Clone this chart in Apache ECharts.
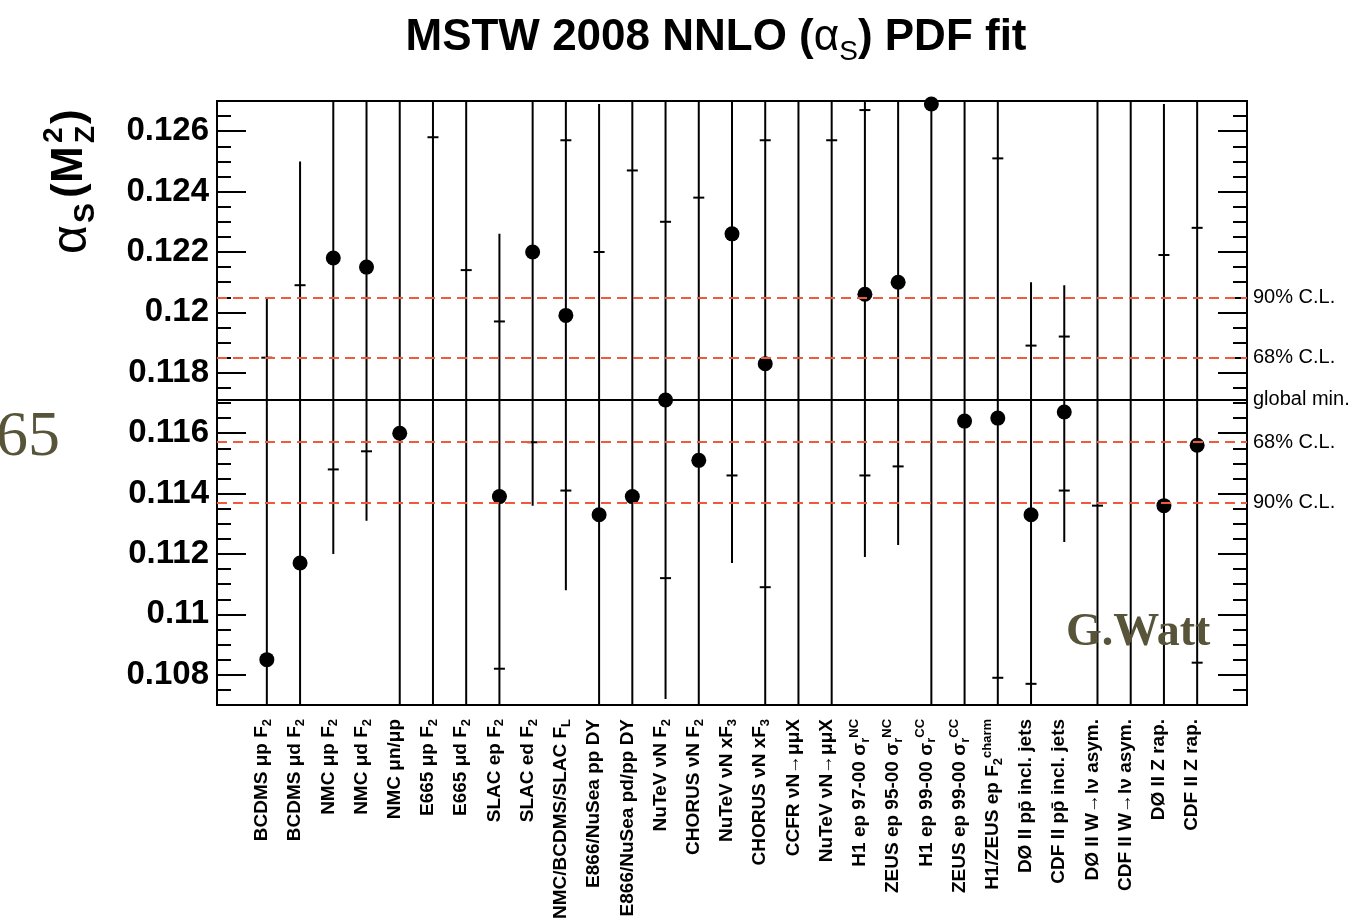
<!DOCTYPE html>
<html><head><meta charset="utf-8">
<script src="https://cdn.jsdelivr.net/npm/echarts@6/dist/echarts.min.js"></script>
<style>html,body{margin:0;padding:0;background:#fff}#c{width:1369px;height:922px}</style>
</head><body><div id="c"></div>
<script>
// ---- data ----
const categories = [
  'BCDMS μp F_{2}', 'BCDMS μd F_{2}', 'NMC μp F_{2}', 'NMC μd F_{2}', 'NMC μn/μp',
  'E665 μp F_{2}', 'E665 μd F_{2}', 'SLAC ep F_{2}', 'SLAC ed F_{2}', 'NMC/BCDMS/SLAC F_{L}',
  'E866/NuSea pp DY', 'E866/NuSea pd/pp DY', 'NuTeV νN F_{2}', 'CHORUS νN F_{2}', 'NuTeV νN xF_{3}',
  'CHORUS νN xF_{3}', 'CCFR νN→μμX', 'NuTeV νN→μμX', 'H1 ep 97-00 σ_{r}^{NC}', 'ZEUS ep 95-00 σ_{r}^{NC}',
  'H1 ep 99-00 σ_{r}^{CC}', 'ZEUS ep 99-00 σ_{r}^{CC}', 'H1/ZEUS ep F_{2}^{charm}', 'DØ II pp\u0304 incl. jets', 'CDF II pp\u0304 incl. jets',
  'DØ II W→lν asym.', 'CDF II W→lν asym.', 'DØ II Z rap.', 'CDF II Z rap.'
];
// best-fit alpha_S per data set (null = outside plotted range)
const central = [0.1085, 0.1117, 0.1218, 0.1215, 0.1160, null, null, 0.1139, 0.1220, 0.1199,
  0.1133, 0.1139, 0.1171, 0.1151, 0.1226, 0.1183, null, null, 0.1206, 0.1210,
  0.1269, 0.1164, 0.1165, 0.1133, 0.1167, null, null, 0.1136, 0.1156];
// 90% C.L. limits (values beyond the axis run off the frame)
const lo90 = [0.100, 0.100, 0.1120, 0.1131, 0.100, 0.100, 0.100, 0.100, 0.1136, 0.1108,
  0.100, 0.100, 0.1072, 0.100, 0.1117, 0.100, 0.100, 0.100, 0.1119, 0.1123,
  0.100, 0.100, 0.100, 0.100, 0.1124, 0.100, 0.100, 0.100, 0.100];
const hi90 = [0.1205, 0.1250, 0.135, 0.135, 0.135, 0.135, 0.135, 0.1226, 0.135, 0.135,
  0.1269, 0.135, 0.135, 0.135, 0.135, 0.135, 0.135, 0.135, 0.135, 0.135,
  0.135, 0.135, 0.135, 0.1210, 0.1209, 0.135, 0.135, 0.1269, 0.135];
// 68% C.L. limits (null = outside plotted range)
const lo68 = [null, null, 0.1148, 0.1154, null, null, null, 0.1082, 0.1157, 0.1141,
  null, null, 0.1112, null, 0.1146, 0.1109, null, null, 0.1146, 0.1149,
  null, null, 0.1079, 0.1077, 0.1141, 0.1136, null, null, 0.1084];
const hi68 = [0.1185, 0.1209, null, null, null, 0.1258, 0.1214, 0.1197, null, 0.1257,
  0.1220, 0.1247, 0.1230, 0.1238, null, 0.1257, null, 0.1257, 0.1267, null,
  null, null, 0.1251, 0.1189, 0.1192, null, null, 0.1219, 0.1228];
// global fit and its C.L. bands
const clLevels = [0.1205, 0.1185, 0.1171, 0.1157, 0.1137];
const clLabels = ['90% C.L.', '68% C.L.', 'global min.', '68% C.L.', '90% C.L.'];
const yMin = 0.107, yMax = 0.127;

// ---- build ----
const FONT = '"Liberation Sans", Arial, Helvetica, sans-serif';
const SERIF = '"Liberation Serif", "DejaVu Serif", serif';
const axisCats = [''].concat(categories, ['']);
function fmtLabel(s) {
  return s.replace(/_\{([^}]*)\}/g, '{sub|$1}').replace(/\^\{([^}]*)\}/g, '{sup|$1}');
}
const errData = categories.map((c, i) => [i + 1, lo90[i], lo68[i], hi68[i], hi90[i]]);
const dotData = [];
central.forEach((v, i) => { if (v != null) dotData.push([i + 1, v]); });

function renderErr(params, api) {
  const xi = api.value(0);
  const a = api.coord([xi, api.value(1)]);
  const b = api.coord([xi, api.value(4)]);
  const ch = [{ type: 'line', shape: { x1: a[0], y1: a[1], x2: b[0], y2: b[1] },
    style: { stroke: '#000', lineWidth: 2 } }];
  [2, 3].forEach(d => {
    const v = api.value(d);
    if (v != null && isFinite(v)) {
      const p = api.coord([xi, v]);
      ch.push({ type: 'line', shape: { x1: p[0] - 5.5, y1: p[1], x2: p[0] + 5.5, y2: p[1] },
        style: { stroke: '#000', lineWidth: 2 } });
    }
  });
  return { type: 'group', children: ch };
}

const yAxisBase = {
  type: 'value', min: yMin, max: yMax, splitNumber: 10,
  axisLine: { show: true, lineStyle: { color: '#000', width: 2 } },
  axisTick: { show: true, inside: true, length: 29, lineStyle: { color: '#000', width: 2 } },
  minorTick: { show: true, splitNumber: 4, length: 14, lineStyle: { color: '#000', width: 2 } },
  splitLine: { show: false }
};

const chart = echarts.init(document.getElementById('c'), null, { renderer: 'canvas' });
chart.setOption({
  animation: false,
  backgroundColor: '#fff',
  grid: { left: 217, right: 122, top: 101, bottom: 216, show: true, borderColor: '#000', borderWidth: 2, containLabel: false },
  xAxis: {
    type: 'category', data: axisCats, boundaryGap: true,
    axisLine: { show: true, lineStyle: { color: '#000', width: 2 } },
    axisTick: { show: false },
    axisLabel: {
      interval: 0, rotate: 90, margin: 14, color: '#000', fontSize: 19, fontWeight: 'bold',
      fontFamily: FONT, lineHeight: 24, padding: [0, 0, 10, 0],
      formatter: fmtLabel,
      rich: {
        sub: { fontSize: 13, fontWeight: 'bold', fontFamily: FONT, color: '#000', verticalAlign: 'bottom' },
        sup: { fontSize: 13, fontWeight: 'bold', fontFamily: FONT, color: '#000', verticalAlign: 'top' }
      }
    }
  },
  yAxis: [
    Object.assign({}, yAxisBase, { position: 'left',
      axisLabel: { color: '#000', fontSize: 33, fontWeight: 'bold', fontFamily: FONT, margin: 8 } }),
    Object.assign({}, yAxisBase, { position: 'right', axisLabel: { show: false } })
  ],
  series: [
    { type: 'custom', renderItem: renderErr, data: errData, clip: true, z: 2,
      encode: { x: 0, y: [1, 2, 3, 4] }, silent: true },
    { type: 'scatter', data: dotData, symbol: 'circle', symbolSize: 15, z: 3,
      itemStyle: { color: '#000', opacity: 1 }, silent: true },
    { type: 'line', data: [], z: 5, silent: true,
      markLine: {
        silent: true, symbol: ['none', 'none'], animation: false, precision: 4,
        label: { show: true, position: 'end', distance: 6, formatter: '{b}', color: '#000',
          fontSize: 20, fontFamily: FONT },
        data: clLevels.map((v, i) => ({
          yAxis: v, name: clLabels[i],
          lineStyle: i === 2 ? { color: '#000', type: 'solid', width: 2 }
                             : { color: '#f05a3a', type: [10, 6], width: 2 }
        }))
      }
    }
  ],
  graphic: [
    { type: 'text', x: 716, y: 38, style: {
        text: 'MSTW 2008 NNLO ({a|α}{s|S}) PDF fit', align: 'center', verticalAlign: 'middle',
        fontSize: 44, fontWeight: 'bold', fontFamily: FONT, fill: '#000', lineHeight: 56,
        rich: { a: { fontSize: 44, fontWeight: 'normal', fontFamily: FONT, fill: '#000' },
                s: { fontSize: 28, fontWeight: 'normal', fontFamily: FONT, fill: '#000', verticalAlign: 'bottom' } }
      } },
    { type: 'group', x: 72, y: 254, rotation: Math.PI / 2, children: [
        { type: 'text', x: 0, y: 0, style: { text: 'α', fontSize: 50, fontFamily: FONT, fill: '#000', verticalAlign: 'middle' } },
        { type: 'text', x: 31, y: 14, style: { text: 'S', fontSize: 30, fontWeight: 'bold', fontFamily: FONT, fill: '#000', verticalAlign: 'middle' } },
        { type: 'text', x: 56, y: -2, style: { text: '(', fontSize: 44, fontWeight: 'bold', fontFamily: FONT, fill: '#000', verticalAlign: 'middle' } },
        { type: 'text', x: 71, y: -2, style: { text: 'M', fontSize: 44, fontWeight: 'bold', fontFamily: FONT, fill: '#000', verticalAlign: 'middle' } },
        { type: 'text', x: 111, y: -18, style: { text: '2', fontSize: 28, fontWeight: 'bold', fontFamily: FONT, fill: '#000', verticalAlign: 'middle' } },
        { type: 'text', x: 111, y: 14, style: { text: 'Z', fontSize: 28, fontWeight: 'bold', fontFamily: FONT, fill: '#000', verticalAlign: 'middle' } },
        { type: 'text', x: 130, y: -2, style: { text: ')', fontSize: 44, fontWeight: 'bold', fontFamily: FONT, fill: '#000', verticalAlign: 'middle' } }
      ] },
    { type: 'text', x: -4, y: 438, style: { text: '65', fontSize: 64, fontFamily: SERIF,
        fill: '#57543a', verticalAlign: 'middle' } },
    { type: 'text', x: 1066, y: 633, z: 20, style: { text: 'G.Watt', fontSize: 46, fontWeight: 'bold',
        fontFamily: SERIF, fill: '#57543a', verticalAlign: 'middle' } }
  ]
});
</script>
</body></html>
